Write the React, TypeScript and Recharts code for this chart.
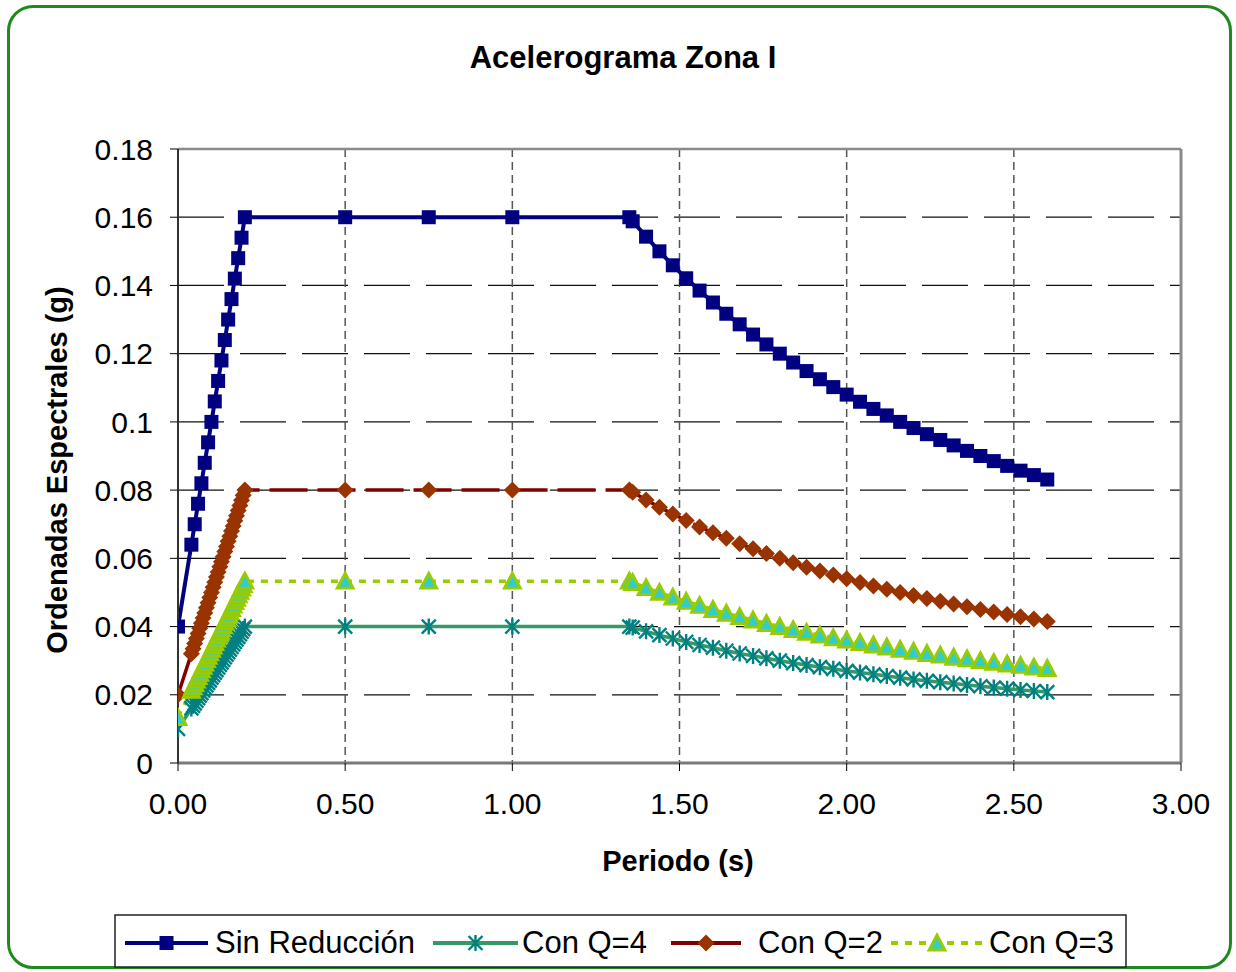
import React from 'react';
import { CartesianGrid, Line, LineChart, ReferenceLine, XAxis, YAxis } from 'recharts';

// periods (s)
const sinRiseX = [0, 0.04, 0.05, 0.06, 0.07, 0.08, 0.09, 0.1, 0.11, 0.12, 0.13, 0.14, 0.15, 0.16, 0.17, 0.18, 0.19, 0.2];
const qRiseX = [
  0, 0.04, 0.045, 0.05, 0.055, 0.06, 0.065, 0.07, 0.075, 0.08, 0.085, 0.09, 0.095, 0.1, 0.105, 0.11, 0.115,
  0.12, 0.125, 0.13, 0.135, 0.14, 0.145, 0.15, 0.155, 0.16, 0.165, 0.17, 0.175, 0.18, 0.185, 0.19, 0.195, 0.2,
];
const flatX = [0.5, 0.75, 1.0];
const decayX = [
  1.35, 1.36, 1.4, 1.44, 1.48, 1.52, 1.56, 1.6, 1.64, 1.68, 1.72, 1.76, 1.8, 1.84, 1.88, 1.92, 1.96, 2.0, 2.04,
  2.08, 2.12, 2.16, 2.2, 2.24, 2.28, 2.32, 2.36, 2.4, 2.44, 2.48, 2.52, 2.56, 2.6,
];

// Sin Reducción
const sinRise = [0.04, 0.064, 0.07, 0.076, 0.082, 0.088, 0.094, 0.1, 0.106, 0.112, 0.118, 0.124, 0.13, 0.136, 0.142, 0.148, 0.154, 0.16];
const sinFlat = [0.16, 0.16, 0.16];
const sinDecay = [
  0.16, 0.1588, 0.1543, 0.15, 0.1459, 0.1421, 0.1385, 0.135, 0.1317, 0.1286, 0.1256, 0.1227, 0.12, 0.1174, 0.1149,
  0.1125, 0.1102, 0.108, 0.1059, 0.1038, 0.1019, 0.1, 0.0982, 0.0964, 0.0947, 0.0931, 0.0915, 0.09, 0.0885, 0.0871,
  0.0857, 0.0844, 0.0831,
];

// Con Q=4
const q4Rise = [
  0.01, 0.016, 0.01675, 0.0175, 0.01825, 0.019, 0.01975, 0.0205, 0.02125, 0.022, 0.02275, 0.0235, 0.02425, 0.025,
  0.02575, 0.0265, 0.02725, 0.028, 0.02875, 0.0295, 0.03025, 0.031, 0.03175, 0.0325, 0.03325, 0.034, 0.03475,
  0.0355, 0.03625, 0.037, 0.03775, 0.0385, 0.03925, 0.04,
];
const q4Flat = [0.04, 0.04, 0.04];
const q4Decay = [
  0.04, 0.0397, 0.0386, 0.0375, 0.0365, 0.0355, 0.0346, 0.0338, 0.0329, 0.0321, 0.0314, 0.0307, 0.03, 0.0293,
  0.0287, 0.0281, 0.0276, 0.027, 0.0265, 0.026, 0.0255, 0.025, 0.0245, 0.0241, 0.0237, 0.0233, 0.0229, 0.0225,
  0.0221, 0.0218, 0.0214, 0.0211, 0.0208,
];

// Con Q=2
const q2Rise = [
  0.02, 0.032, 0.0335, 0.035, 0.0365, 0.038, 0.0395, 0.041, 0.0425, 0.044, 0.0455, 0.047, 0.0485, 0.05, 0.0515,
  0.053, 0.0545, 0.056, 0.0575, 0.059, 0.0605, 0.062, 0.0635, 0.065, 0.0665, 0.068, 0.0695, 0.071, 0.0725, 0.074,
  0.0755, 0.077, 0.0785, 0.08,
];
const q2Flat = [0.08, 0.08, 0.08];
const q2Decay = [
  0.08, 0.0794, 0.0771, 0.075, 0.073, 0.0711, 0.0692, 0.0675, 0.0659, 0.0643, 0.0628, 0.0614, 0.06, 0.0587, 0.0574,
  0.0563, 0.0551, 0.054, 0.0529, 0.0519, 0.0509, 0.05, 0.0491, 0.0482, 0.0474, 0.0466, 0.0458, 0.045, 0.0443,
  0.0435, 0.0429, 0.0422, 0.0415,
];

// Con Q=3
const q3Rise = [
  0.0133, 0.0213, 0.0223, 0.0233, 0.0243, 0.0253, 0.0263, 0.0273, 0.0283, 0.0293, 0.0303, 0.0313, 0.0323, 0.0333,
  0.0343, 0.0353, 0.0363, 0.0373, 0.0383, 0.0393, 0.0403, 0.0413, 0.0423, 0.0433, 0.0443, 0.0453, 0.0463, 0.0473,
  0.0483, 0.0493, 0.0503, 0.0513, 0.0523, 0.0533,
];
const q3Flat = [0.0533, 0.0533, 0.0533];
const q3Decay = [
  0.0533, 0.0529, 0.0514, 0.05, 0.0486, 0.0474, 0.0462, 0.045, 0.0439, 0.0429, 0.0419, 0.0409, 0.04, 0.0391,
  0.0383, 0.0375, 0.0367, 0.036, 0.0353, 0.0346, 0.034, 0.0333, 0.0327, 0.0321, 0.0316, 0.031, 0.0305, 0.03,
  0.0295, 0.029, 0.0286, 0.0281, 0.0277,
];

const xTicks = [0, 0.5, 1, 1.5, 2, 2.5, 3];
const xTickLabels = ['0.00', '0.50', '1.00', '1.50', '2.00', '2.50', '3.00'];
const yTicks = [0, 0.02, 0.04, 0.06, 0.08, 0.1, 0.12, 0.14, 0.16, 0.18];
const yTickLabels = ['0', '0.02', '0.04', '0.06', '0.08', '0.1', '0.12', '0.14', '0.16', '0.18'];

const toPoints = (xs: number[], ys: number[]) => xs.map((x, i) => ({ x, y: ys[i] }));

const FONT = '"Liberation Sans", Arial, sans-serif';

const sinData = toPoints([...sinRiseX, ...flatX, ...decayX], [...sinRise, ...sinFlat, ...sinDecay]);
const qX = [...qRiseX, ...flatX, ...decayX];
const q4Data = toPoints(qX, [...q4Rise, ...q4Flat, ...q4Decay]);
const q2Data = toPoints(qX, [...q2Rise, ...q2Flat, ...q2Decay]);
const q3Data = toPoints(qX, [...q3Rise, ...q3Flat, ...q3Decay]);

type Mark = 'square' | 'star' | 'diamond' | 'triangle';

const drawMark = (kind: Mark, cx: number, cy: number, key?: string | number) => {
  if (cx == null || cy == null) return <g key={key} />;
  if (kind === 'square') return <rect key={key} x={cx - 7} y={cy - 7} width={14} height={14} fill="#000080" />;
  if (kind === 'diamond')
    return <polygon key={key} points={`${cx},${cy - 8.5} ${cx + 8.5},${cy} ${cx},${cy + 8.5} ${cx - 8.5},${cy}`} fill="#993300" />;
  if (kind === 'triangle')
    return (
      <polygon
        key={key}
        points={`${cx},${cy - 8} ${cx + 8},${cy + 7} ${cx - 8},${cy + 7}`}
        fill="#33CCCC"
        stroke="#99CC00"
        strokeWidth={2.8}
      />
    );
  return (
    <path
      key={key}
      d={`M${cx - 7},${cy - 7}L${cx + 7},${cy + 7}M${cx - 7},${cy + 7}L${cx + 7},${cy - 7}M${cx},${cy - 8}L${cx},${cy + 8}`}
      stroke="#008080"
      strokeWidth={2.4}
    />
  );
};

const series = [
  { name: 'Sin Reducción', data: sinData, stroke: '#000080', dash: undefined, mark: 'square' as Mark, lx: 125, lw: 83, tx: 215 },
  { name: 'Con Q=4', data: q4Data, stroke: '#339966', dash: undefined, mark: 'star' as Mark, lx: 433, lw: 85, tx: 522 },
  { name: 'Con Q=2', data: q2Data, stroke: '#800000', dash: '38 10', mark: 'diamond' as Mark, lx: 671, lw: 70, tx: 758 },
  { name: 'Con Q=3', data: q3Data, stroke: '#99CC00', dash: '7 7', mark: 'triangle' as Mark, lx: 891, lw: 92, tx: 989 },
];

export default function App() {
  return (
    <div style={{ position: 'absolute', left: 0, top: 0, width: 1236, height: 972, background: '#fff' }}>
      <div
        style={{
          position: 'absolute',
          left: 7,
          top: 5,
          width: 1225,
          height: 964,
          boxSizing: 'border-box',
          border: '3px solid #1e8a1e',
          borderRadius: 26,
        }}
      />
      <div style={{ position: 'absolute', left: 0, top: 0 }}>
        <LineChart width={1236} height={972} margin={{ top: 149, right: 55, bottom: 149, left: 98 }}>
          <CartesianGrid horizontal vertical={false} stroke="#111" strokeWidth={1.3} strokeDasharray="46 16" />
          <CartesianGrid horizontal={false} vertical stroke="#555" strokeWidth={1.5} strokeDasharray="8 5" />
          <XAxis
            type="number"
            dataKey="x"
            domain={[0, 3]}
            ticks={xTicks}
            tickFormatter={(v: number) => xTickLabels[xTicks.indexOf(v)] ?? String(v)}
            height={60}
            tickSize={8}
            tickMargin={22}
            axisLine={{ stroke: '#7a7a7a', strokeWidth: 3 }}
            tickLine={{ stroke: '#000' }}
            tick={{ fill: '#000', fontSize: 30, fontFamily: FONT }}
            allowDataOverflow
          />
          <YAxis
            type="number"
            dataKey="y"
            domain={[0, 0.18]}
            ticks={yTicks}
            tickFormatter={(v: number) => yTickLabels[yTicks.indexOf(v)] ?? String(v)}
            width={80}
            tickSize={8}
            tickMargin={17}
            axisLine={{ stroke: '#333', strokeWidth: 2 }}
            tickLine={{ stroke: '#000' }}
            tick={{ fill: '#000', fontSize: 30, fontFamily: FONT }}
            allowDataOverflow
          />
          <ReferenceLine y={0.18} stroke="#8a8a8a" strokeWidth={2.5} />
          <ReferenceLine x={3} stroke="#8a8a8a" strokeWidth={3} />
          {series.map((s) => (
            <Line
              key={s.name}
              data={s.data}
              dataKey="y"
              name={s.name}
              type="linear"
              stroke={s.stroke}
              strokeWidth={s.mark === 'square' ? 4 : 3.5}
              strokeDasharray={s.dash}
              isAnimationActive={false}
              dot={(p: any) => drawMark(s.mark, p.cx, p.cy, `${s.name}-${p.index}`)}
              activeDot={false}
            />
          ))}
        </LineChart>
      </div>
      <svg width={1236} height={972} style={{ position: 'absolute', left: 0, top: 0, pointerEvents: 'none' }}>
        <text x={623} y={68} textAnchor="middle" fontFamily={FONT} fontWeight="bold" fontSize={31} fill="#000">
          Acelerograma Zona I
        </text>
        <text
          transform="translate(67,470) rotate(-90)"
          textAnchor="middle"
          fontFamily={FONT}
          fontWeight="bold"
          fontSize={29}
          fill="#000"
        >
          Ordenadas Espectrales (g)
        </text>
        <text x={678} y={871} textAnchor="middle" fontFamily={FONT} fontWeight="bold" fontSize={29} fill="#000">
          Periodo (s)
        </text>
        <rect x={115} y={915} width={1011} height={52} fill="#fff" stroke="#222" strokeWidth={1.5} />
        {series.map((s) => (
          <g key={s.name}>
            <line
              x1={s.lx}
              x2={s.lx + s.lw}
              y1={943}
              y2={943}
              stroke={s.stroke}
              strokeWidth={4}
              strokeDasharray={s.mark === 'diamond' ? undefined : s.dash}
            />
            {drawMark(s.mark, s.lx + s.lw / 2, 943)}
            <text x={s.tx} y={953} fontFamily={FONT} fontSize={31} fill="#000">
              {s.name}
            </text>
          </g>
        ))}
      </svg>
    </div>
  );
}
